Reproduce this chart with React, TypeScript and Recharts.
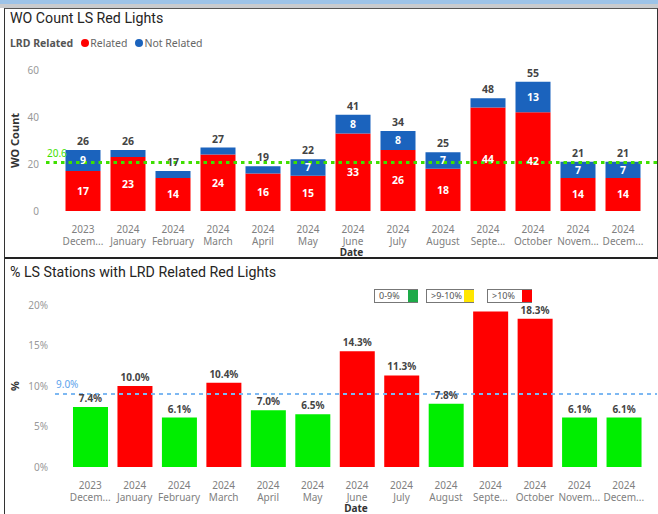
import { BarChart, Bar, XAxis, YAxis, ReferenceLine, LabelList, Cell } from 'recharts';

// monthly categories (Power BI truncates the long month names)
const years = ['2023', '2024', '2024', '2024', '2024', '2024', '2024', '2024', '2024', '2024', '2024', '2024', '2024'];
const monthNames = ['Decem...', 'January', 'February', 'March', 'April', 'May', 'June', 'July', 'August', 'Septe...', 'October', 'Novem...', 'Decem...'];

// WO counts
const relatedCounts = [17, 23, 14, 24, 16, 15, 33, 26, 18, 44, 42, 14, 14];
const notRelatedCounts = [9, 3, 3, 3, 3, 7, 8, 8, 7, 4, 13, 7, 7];
const countTicks = [0, 20, 40, 60];
const countTarget = 20.6;

// % of LS stations with LRD related red lights
const stationPct = [7.4, 10.0, 6.1, 10.4, 7.0, 6.5, 14.3, 11.3, 7.8, 19.2, 18.3, 6.1, 6.1];
const pctTicks = [0, 5, 10, 15, 20];
const pctTarget = 9.0;

const RED = '#FF0000';
const BLUE = '#1B63BD';
const GREEN = '#00EE00';
const YELLOW = '#FFE600';
const FONT = '"Segoe UI", "Noto Sans", sans-serif';
const TITLE_FONT = 'Roboto, "Noto Sans", sans-serif';

const countData = years.map((year, i) => ({
  key: i,
  year,
  month: monthNames[i],
  related: relatedCounts[i],
  notRelated: notRelatedCounts[i],
  total: relatedCounts[i] + notRelatedCounts[i],
}));

const pctData = years.map((year, i) => ({ key: i, year, month: monthNames[i], pct: stationPct[i] }));

const pctColor = (v: number) => (v >= 10 ? RED : v > 9 ? YELLOW : GREEN);

const DateTick = ({ x, y, payload }: any) => {
  const i = payload.value;
  return (
    <text x={x} y={y} textAnchor="middle" fill="#808080" fontSize={10} fontFamily={FONT}>
      <tspan x={x} dy={19.5}>{years[i]}</tspan>
      <tspan x={x} dy={12.5}>{monthNames[i]}</tspan>
    </text>
  );
};

const DateLabel = ({ viewBox }: any) => (
  <text
    x={viewBox.x + viewBox.width / 2}
    y={viewBox.y + 44.5}
    textAnchor="middle"
    fill="#333"
    fontSize={10}
    fontWeight={700}
    fontFamily={FONT}
  >
    Date
  </text>
);

const SideLabel = (text: string) => ({ viewBox }: any) => {
  const cy = viewBox.y + viewBox.height / 2;
  return (
    <text
      x={19}
      y={cy}
      transform={`rotate(-90 19 ${cy})`}
      textAnchor="middle"
      fill="#333"
      fontSize={11}
      fontWeight={700}
      fontFamily={FONT}
    >
      {text}
    </text>
  );
};

const TargetLabel = (text: string, color: string) => ({ viewBox }: any) => (
  <text x={viewBox.x + 1} y={viewBox.y - 6} fill={color} fontSize={10} fontFamily={FONT}>
    {text}
  </text>
);

// Power BI hides the label when it does not fit above the bar
const PctLabel = ({ x, y, width, value }: any) => {
  if (value > pctTicks[pctTicks.length - 1] - 1) return null;
  return (
    <text x={x + width / 2} y={y - 5} textAnchor="middle" fill="#444" fontSize={10} fontWeight={700} fontFamily={FONT}>
      {value.toFixed(1)}%
    </text>
  );
};

const LegendBox = ({ left, width, text, color }: { left: number; width: number; text: string; color: string }) => (
  <div
    style={{
      position: 'absolute',
      left,
      top: 289,
      width,
      height: 12,
      border: '1px solid #777',
      background: '#fff',
      fontFamily: FONT,
      fontSize: 9,
      color: '#555',
      lineHeight: '12px',
      paddingLeft: 4,
      boxSizing: 'content-box',
    }}
  >
    {text}
    <div style={{ position: 'absolute', right: -1, top: 0, width: 10, height: 12, background: color }} />
  </div>
);

export default function App() {
  return (
    <div style={{ position: 'relative', width: 658, height: 514, background: '#fff', overflow: 'hidden' }}>
      <style>{'body{margin:0}'}</style>

      {/* window chrome on top */}
      <div style={{ position: 'absolute', left: 0, top: 0, width: 658, height: 4, background: '#9DC3E8' }} />
      <div style={{ position: 'absolute', left: 0, top: 4, width: 658, height: 4, background: '#C9CBCE' }} />
      <div style={{ position: 'absolute', left: 4, top: 8, width: 652, height: 248, borderLeft: '1.5px solid #333', borderTop: '1px solid #555', borderRight: '1.5px solid #333', borderBottom: '2px solid #222' }} />
      <div style={{ position: 'absolute', left: 4, top: 258, width: 0, height: 256, borderLeft: '1.5px solid #333' }} />

      {/* top visual */}
      <div style={{ position: 'absolute', left: 10, top: 10, fontFamily: TITLE_FONT, fontSize: 14.2, color: '#252423', whiteSpace: 'nowrap' }}>
        WO Count LS Red Lights
      </div>
      <div style={{ position: 'absolute', left: 10, top: 36, fontFamily: FONT, fontSize: 10.5, color: '#666', display: 'flex', alignItems: 'center', whiteSpace: 'nowrap' }}>
        <span style={{ fontWeight: 700, color: '#555', marginRight: 8 }}>LRD Related</span>
        <span style={{ width: 8, height: 8, borderRadius: 4, background: RED, marginRight: 1 }} />
        <span style={{ marginRight: 8 }}>Related</span>
        <span style={{ width: 8, height: 8, borderRadius: 4, background: BLUE, marginRight: 1 }} />
        <span>Not Related</span>
      </div>
      <div style={{ position: 'absolute', left: 0, top: 0 }}>
        <BarChart
          width={658}
          height={256}
          data={countData}
          margin={{ top: 70, right: 1, bottom: 0, left: 0 }}
          barSize={35}
          style={{ overflow: 'visible' }}
        >
          <XAxis
            dataKey="key"
            height={45}
            axisLine={false}
            tickLine={false}
            tickSize={0}
            interval={0}
            padding={{ left: 14.5, right: 11.5 }}
            tick={<DateTick />}
            label={<DateLabel />}
          />
          <YAxis
            width={46}
            domain={[0, 60]}
            ticks={countTicks}
            axisLine={false}
            tickLine={false}
            tickSize={0}
            tickMargin={7}
            tick={{ fill: '#999', fontSize: 10, fontFamily: FONT }}
            label={SideLabel('WO Count')}
          />
          <Bar dataKey="related" stackId="wo" fill={RED} isAnimationActive={false}>
            <LabelList dataKey="related" position="center" fill="#fff" fontSize={10.5} fontWeight={700} fontFamily={FONT} />
          </Bar>
          <Bar dataKey="notRelated" stackId="wo" fill={BLUE} isAnimationActive={false}>
            <LabelList
              dataKey="notRelated"
              position="center"
              fill="#fff"
              fontSize={10.5}
              fontWeight={700}
              fontFamily={FONT}
              formatter={(v: any) => (v >= 5 ? v : '')}
            />
            <LabelList dataKey="total" position="top" offset={5} fill="#444" fontSize={10.5} fontWeight={700} fontFamily={FONT} />
          </Bar>
          <ReferenceLine
            y={countTarget}
            stroke="#3FE000"
            strokeWidth={3}
            strokeDasharray="3.5 4"
            label={TargetLabel(countTarget.toFixed(1), '#3FE000')}
          />
        </BarChart>
      </div>

      {/* bottom visual */}
      <div style={{ position: 'absolute', left: 10, top: 264, fontFamily: TITLE_FONT, fontSize: 14.2, color: '#252423', whiteSpace: 'nowrap' }}>
        % LS Stations with LRD Related Red Lights
      </div>
      <div style={{ position: 'absolute', left: 0, top: 258 }}>
        <BarChart
          width={658}
          height={256}
          data={pctData}
          margin={{ top: 47, right: 1, bottom: 0, left: 0 }}
          barSize={35}
          style={{ overflow: 'visible' }}
        >
          <XAxis
            dataKey="key"
            height={47}
            axisLine={false}
            tickLine={false}
            tickSize={0}
            interval={0}
            padding={{ left: 13, right: 11 }}
            tick={<DateTick />}
            label={<DateLabel />}
          />
          <YAxis
            width={55}
            domain={[0, 20]}
            ticks={pctTicks}
            axisLine={false}
            tickLine={false}
            tickSize={0}
            tickMargin={7}
            tickFormatter={(v: number) => `${v}%`}
            tick={{ fill: '#999', fontSize: 10, fontFamily: FONT }}
            label={SideLabel('%')}
          />
          <Bar dataKey="pct" isAnimationActive={false}>
            {pctData.map((d) => (
              <Cell key={d.key} fill={pctColor(d.pct)} />
            ))}
            <LabelList dataKey="pct" content={<PctLabel />} />
          </Bar>
          <ReferenceLine
            y={pctTarget}
            stroke="#7DB8F2"
            strokeWidth={2}
            strokeDasharray="4 4"
            label={TargetLabel(`${pctTarget.toFixed(1)}%`, '#5DA3EC')}
          />
        </BarChart>
      </div>

      <LegendBox left={374} width={38} text="0-9%" color="#1DAA48" />
      <LegendBox left={426} width={42} text=">9-10%" color={YELLOW} />
      <LegendBox left={487} width={39} text=">10%" color={RED} />
    </div>
  );
}
